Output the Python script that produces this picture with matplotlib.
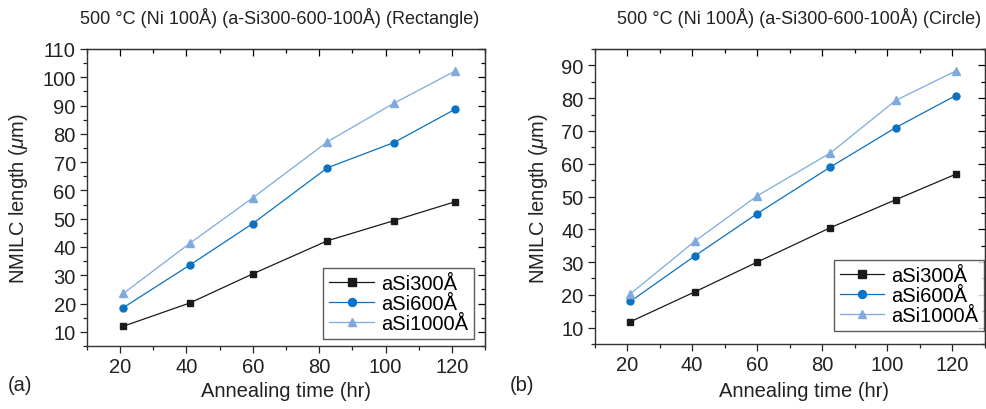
import numpy as np
import matplotlib
matplotlib.use("Agg")
import matplotlib.pyplot as plt
from matplotlib.ticker import MultipleLocator

plt.rcParams["font.family"] = ["Liberation Sans", "DejaVu Sans"]
plt.rcParams["mathtext.fontset"] = "custom"
plt.rcParams["mathtext.it"] = "Liberation Sans:italic"

# annealing time (hr)
time_a = [21, 41, 60, 82.5, 102.5, 121]
time_b = [21, 41, 60, 82.5, 102.5, 121]

# panel (a) Rectangle
rect_300 = [12, 20.2, 30.5, 42.2, 49.3, 56]
rect_600 = [18.6, 33.6, 48.3, 68, 76.9, 88.7]
rect_1000 = [23.6, 41.3, 57.4, 77.2, 90.8, 102.2]

# panel (b) Circle
circ_300 = [11.8, 21, 30, 40.5, 49, 56.8]
circ_600 = [18, 32, 44.8, 59, 71, 80.8]
circ_1000 = [20.3, 36.5, 50.2, 63.3, 79.3, 88.3]

labels = ["aSi300Å", "aSi600Å", "aSi1000Å"]
colors = ["#1a1a1a", "#0a72c2", "#7faade"]
markers = ["s", "o", "^"]

fig = plt.figure(figsize=(9.86, 4.10), dpi=100)
ax_a = fig.add_axes([0.0882, 0.1537, 0.4037, 0.7244])
ax_b = fig.add_axes([0.603, 0.1585, 0.396, 0.7195])


def draw(ax, x, series, ylim, ymajor, anchor):
    for y, lab, c, m in zip(series, labels, colors, markers):
        ax.plot(x, y, color=c, lw=0.9, marker=m, ms=5 if m != "^" else 5.5,
                mec=c, mfc=c, label=lab)
    ax.set_xlim(10, 130)
    ax.set_ylim(*ylim)
    ax.xaxis.set_major_locator(MultipleLocator(20))
    ax.xaxis.set_minor_locator(MultipleLocator(10))
    ax.yaxis.set_major_locator(MultipleLocator(ymajor))
    ax.yaxis.set_minor_locator(MultipleLocator(5))
    ax.tick_params(which="both", direction="out", labelsize=14.5, width=0.9,
                   colors="#222222", pad=3)
    ax.tick_params(which="major", length=5)
    ax.tick_params(which="minor", length=3)
    # inward ticks on top / right
    sec_x = ax.secondary_xaxis("top")
    sec_x.xaxis.set_major_locator(MultipleLocator(20))
    sec_x.xaxis.set_minor_locator(MultipleLocator(10))
    sec_x.tick_params(which="both", direction="in", labeltop=False, width=0.9)
    sec_x.tick_params(which="major", length=5)
    sec_x.tick_params(which="minor", length=3)
    sec_y = ax.secondary_yaxis("right")
    sec_y.yaxis.set_major_locator(MultipleLocator(ymajor))
    sec_y.yaxis.set_minor_locator(MultipleLocator(5))
    sec_y.tick_params(which="both", direction="in", labelright=False, width=0.9)
    sec_y.tick_params(which="major", length=5)
    sec_y.tick_params(which="minor", length=3)
    for s in ax.spines.values():
        s.set_linewidth(1.0)
        s.set_color("#333333")
    leg = ax.legend(loc="lower right", bbox_to_anchor=anchor, fontsize=14.5,
                    frameon=True, fancybox=False, edgecolor="#333333",
                    handlelength=2.2, markerscale=1.15, borderpad=0.3,
                    labelspacing=0.05, handletextpad=0.35, borderaxespad=0)
    leg.get_frame().set_linewidth(1.0)


draw(ax_a, time_a, [rect_300, rect_600, rect_1000], (5, 110), 10, (0.972, 0.024))
draw(ax_b, time_b, [circ_300, circ_600, circ_1000], (5, 95), 10, (0.998, 0.044))

fig.text(0.284, 0.955, "500 °C (Ni 100Å) (a-Si300-600-100Å) (Rectangle)",
         ha="center", va="center", fontsize=13, color="#222222")
fig.text(0.81, 0.955, "500 °C (Ni 100Å) (a-Si300-600-100Å) (Circle)",
         ha="center", va="center", fontsize=13, color="#222222")

for xc in (0.29, 0.815):
    fig.text(xc, 0.045, "Annealing time (hr)", ha="center", va="center",
             fontsize=14.5, color="#222222")
for xc, yc in ((0.019, 0.515), (0.546, 0.515)):
    fig.text(xc, yc, r"NMILC length ($\mu$m)", ha="center", va="center",
             rotation=90, fontsize=14.5, color="#222222")

fig.text(0.008, 0.06, "(a)", ha="left", va="center", fontsize=14.5, color="#222222")
fig.text(0.517, 0.06, "(b)", ha="left", va="center", fontsize=14.5, color="#222222")

fig.savefig("out.png", dpi=100)
